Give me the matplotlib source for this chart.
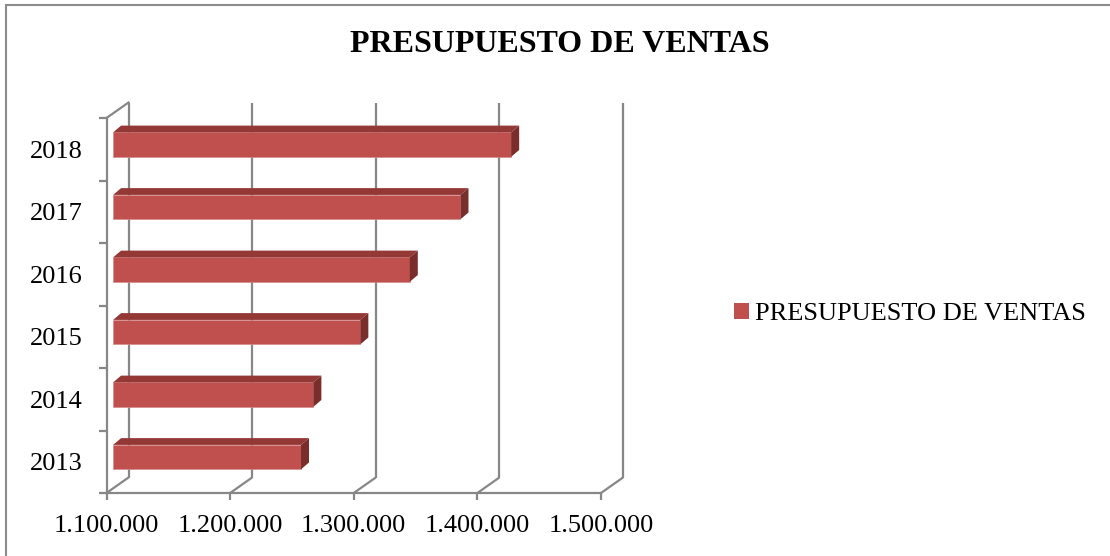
import matplotlib
matplotlib.use("Agg")
import matplotlib.pyplot as plt
from matplotlib.patches import Polygon, Rectangle, Patch
import numpy as np

years = ["2013", "2014", "2015", "2016", "2017", "2018"]
ventas = [1252000, 1262000, 1300000, 1340000, 1381000, 1422000]
x_ticks = [1100000, 1200000, 1300000, 1400000, 1500000]
x_labels = ["1.100.000", "1.200.000", "1.300.000", "1.400.000", "1.500.000"]
title = "PRESUPUESTO DE VENTAS"
series_name = "PRESUPUESTO DE VENTAS"

W, H = 1110, 556
fig = plt.figure(figsize=(W / 100, H / 100), dpi=100)
plt.rcParams['font.family'] = ['Liberation Serif', 'DejaVu Serif']

# front plane of axes in pixels
px_l, px_r, py_t, py_b = 106.5, 601, 118, 493
ax = fig.add_axes([px_l / W, 1 - py_b / H, (px_r - px_l) / W, (py_b - py_t) / H])
xmin, xmax = x_ticks[0], x_ticks[-1]
ax.set_xlim(xmin, xmax)
ax.set_ylim(-0.5, len(years) - 0.5)

ppx = (px_r - px_l) / (xmax - xmin)        # pixels per value unit
ppy = (py_b - py_t) / len(years)           # pixels per category
DX = 22 / ppx
DY = 15.5 / ppy
grid_c = "#878787"
glw = 1.6

# back wall / floor gridlines
for v in x_ticks:
    ax.plot([v, v + DX], [-0.5, -0.5 + DY], color=grid_c, lw=glw, clip_on=False, zorder=1,
            solid_capstyle='butt')
    ax.plot([v + DX, v + DX], [-0.5 + DY, len(years) - 0.5 + DY], color=grid_c, lw=glw,
            clip_on=False, zorder=1, solid_capstyle='butt')
ax.plot([xmin, xmin + DX], [len(years) - 0.5, len(years) - 0.5 + DY], color=grid_c, lw=glw,
        clip_on=False, zorder=1)

# bars
f0 = 0.3
bh = 0.39
bdx = 8 / ppx
bdy = 6.8 / ppy
front_c = "#C0504D"
top_c = "#943836"
side_c = "#7A2E2C"
ypos = np.arange(len(years)) + f0 * DY
ax.barh(ypos, [v - xmin for v in ventas], left=xmin + f0 * DX, height=bh, color=front_c,
        edgecolor="#D58C8A", linewidth=0.5, zorder=3, label=series_name, clip_on=False)
for y, v in zip(ypos, ventas):
    x0 = xmin + f0 * DX
    x1 = v + f0 * DX
    yt = y + bh / 2
    yb = y - bh / 2
    ax.add_patch(Polygon([(x0, yt), (x1, yt), (x1 + bdx, yt + bdy), (x0 + bdx, yt + bdy)],
                         closed=True, facecolor=top_c, edgecolor='none', zorder=3, clip_on=False))
    ax.add_patch(Polygon([(x1, yb), (x1, yt), (x1 + bdx, yt + bdy), (x1 + bdx, yb + bdy)],
                         closed=True, facecolor=side_c, edgecolor='none', zorder=3, clip_on=False))

# axes styling
for s in ["top", "right"]:
    ax.spines[s].set_visible(False)
for s in ["left", "bottom"]:
    ax.spines[s].set_color(grid_c)
    ax.spines[s].set_linewidth(glw)
ax.set_xticks(x_ticks)
ax.set_xticklabels(x_labels, fontsize=19)
ax.tick_params(axis='x', direction='out', length=5, width=glw, color=grid_c, pad=11)
ax.set_yticks(np.arange(len(years) + 1) - 0.5)
ax.set_yticklabels([])
ax.tick_params(axis='y', which='major', direction='out', length=6, width=glw, color=grid_c)
ax.set_yticks(np.arange(len(years)), minor=True)
ax.set_yticklabels(years, minor=True, fontsize=19)
ax.tick_params(axis='y', which='minor', length=0, pad=17)
ax.set_facecolor('none')

# title
fig.text(560 / W, 1 - 45 / H, title, fontsize=23, fontweight='bold', ha='center', va='center')

# legend
fig.legend(handles=[Patch(facecolor=front_c, edgecolor='none', label=series_name)],
           loc='center left', bbox_to_anchor=(734 / W, 1 - 314 / H), frameon=False,
           fontsize=19, handlelength=0.55, handleheight=0.55, handletextpad=0.25,
           borderpad=0, borderaxespad=0)

# outer border
fig.add_artist(Rectangle((6 / W, -0.1), 1.2, 1 - 5 / H + 0.1, transform=fig.transFigure,
                         fill=False, edgecolor="#8c8c8c", lw=1.5, clip_on=False))

fig.savefig("out.png", dpi=100)
